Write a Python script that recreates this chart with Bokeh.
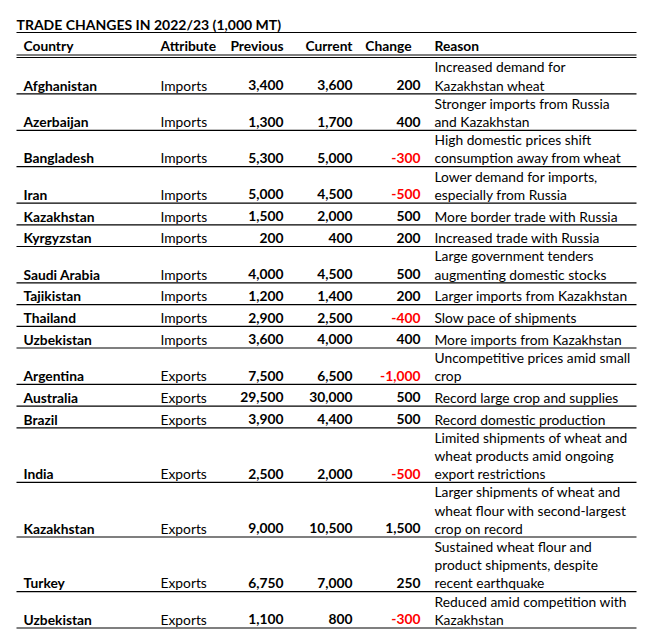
from bokeh.plotting import figure
from bokeh.models import Range1d, ColumnDataSource
from bokeh.core.properties import value
from bokeh.embed import file_html
from bokeh.resources import INLINE

title = "TRADE CHANGES IN 2022/23 (1,000 MT)"
headers = ["Country", "Attribute", "Previous", "Current", "Change", "Reason"]
countries = ["Afghanistan", "Azerbaijan", "Bangladesh", "Iran", "Kazakhstan", "Kyrgyzstan",
             "Saudi Arabia", "Tajikistan", "Thailand", "Uzbekistan", "Argentina", "Australia",
             "Brazil", "India", "Kazakhstan", "Turkey", "Uzbekistan"]
attributes = ["Imports", "Imports", "Imports", "Imports", "Imports", "Imports", "Imports",
              "Imports", "Imports", "Imports", "Exports", "Exports", "Exports", "Exports",
              "Exports", "Exports", "Exports"]
previous = [3400, 1300, 5300, 5000, 1500, 200, 4000, 1200, 2900, 3600, 7500, 29500, 3900,
            2500, 9000, 6750, 1100]
current = [3600, 1700, 5000, 4500, 2000, 400, 4500, 1400, 2500, 4000, 6500, 30000, 4400,
           2000, 10500, 7000, 800]
change = [200, 400, -300, -500, 500, 200, 500, 200, -400, 400, -1000, 500, 500, -500, 1500,
          250, -300]
reasons = [
    ["Increased demand for", "Kazakhstan wheat"],
    ["Stronger imports from Russia", "and Kazakhstan"],
    ["High domestic prices shift", "consumption away from wheat"],
    ["Lower demand for imports,", "especially from Russia"],
    ["More border trade with Russia"],
    ["Increased trade with Russia"],
    ["Large government tenders", "augmenting domestic stocks"],
    ["Larger imports from Kazakhstan"],
    ["Slow pace of shipments"],
    ["More imports from Kazakhstan"],
    ["Uncompetitive prices amid small", "crop"],
    ["Record large crop and supplies"],
    ["Record domestic production"],
    ["Limited shipments of wheat and", "wheat products amid ongoing", "export restrictions"],
    ["Larger shipments of wheat and", "wheat flour with second-largest", "crop on record"],
    ["Sustained wheat flour and", "product shipments, despite", "recent earthquake"],
    ["Reduced amid competition with", "Kazakhstan"],
]

# ---- layout (screen pixel coordinates) ----
FONT = value("Lato")
FS = "13.8px"
LEFT, RIGHT = 16, 636
COL_COUNTRY = 23
COL_ATTR = 160
COL_PREV_R = 283
COL_CUR_R = 352
COL_CHG_R = 420
COL_CHG_HDR_R = 411
COL_REASON = 434
LINE_H = 18.2
TOP_LINE = 32
HDR_BASE = 49
DBL1, DBL2 = 54.5, 57
TXT_SHIFT = 4.3   # compensates renderer's baseline offset

W, H = 646, 630
p = figure(width=W, height=H, x_range=Range1d(0, W), y_range=Range1d(H, 0),
           output_backend="svg", toolbar_location=None,
           x_axis_location=None, y_axis_location=None, min_border=0,
           outline_line_color=None, background_fill_color="white",
           border_fill_color="white")
p.xgrid.visible = False
p.ygrid.visible = False

# title
p.text(x=[LEFT], y=[28 - TXT_SHIFT], text=[title], text_font=FONT, text_font_size="14px",
       text_font_style="bold", text_baseline="alphabetic", text_align="left", text_color="black")

# header
hx = [COL_COUNTRY, COL_ATTR, COL_PREV_R, COL_CUR_R, COL_CHG_HDR_R, COL_REASON]
halign = ["left", "left", "right", "right", "right", "left"]
for x, t, a in zip(hx, headers, halign):
    p.text(x=[x], y=[HDR_BASE - TXT_SHIFT], text=[t], text_font=FONT, text_font_size=FS,
           text_font_style="bold", text_baseline="alphabetic", text_align=a, text_color="black")

# rows
seg_y = [TOP_LINE, DBL1, DBL2]
y = DBL2
base_y, rx, ry, rt = [], [], [], []
for lines in reasons:
    n = len(lines)
    h = max(21.7, LINE_H * n)
    bottom = y + h
    b = bottom - 4.5 - TXT_SHIFT
    base_y.append(b)
    for i, ln in enumerate(lines):
        rx.append(COL_REASON)
        ry.append(b - (n - 1 - i) * LINE_H)
        rt.append(ln)
    seg_y.append(bottom)
    y = bottom

fmt = lambda v: f"{v:,}"
src = ColumnDataSource(dict(
    y=base_y, country=countries, attr=attributes,
    prev=[fmt(v) for v in previous], cur=[fmt(v) for v in current],
    chg=[fmt(v) for v in change],
    chg_color=["#FF0000" if v < 0 else "black" for v in change],
))
common = dict(source=src, text_font=FONT, text_font_size=FS, text_baseline="alphabetic")
p.text(x=COL_COUNTRY, y="y", text="country", text_align="left", text_font_style="bold",
       text_color="black", **common)
p.text(x=COL_ATTR, y="y", text="attr", text_align="left", text_color="black", **common)
p.text(x=COL_PREV_R, y="y", text="prev", text_align="right", text_font_style="bold",
       text_color="black", **common)
p.text(x=COL_CUR_R, y="y", text="cur", text_align="right", text_font_style="bold",
       text_color="black", **common)
p.text(x=COL_CHG_R, y="y", text="chg", text_align="right", text_font_style="bold",
       text_color="chg_color", **common)
p.text(x=rx, y=ry, text=rt, text_font=FONT, text_font_size=FS, text_baseline="alphabetic",
       text_align="left", text_color="black")

p.segment(x0=[LEFT] * len(seg_y), x1=[RIGHT] * len(seg_y), y0=seg_y, y1=seg_y,
          line_color="black", line_width=1.2)

open("out.html", "w").write(file_html(p, INLINE))
